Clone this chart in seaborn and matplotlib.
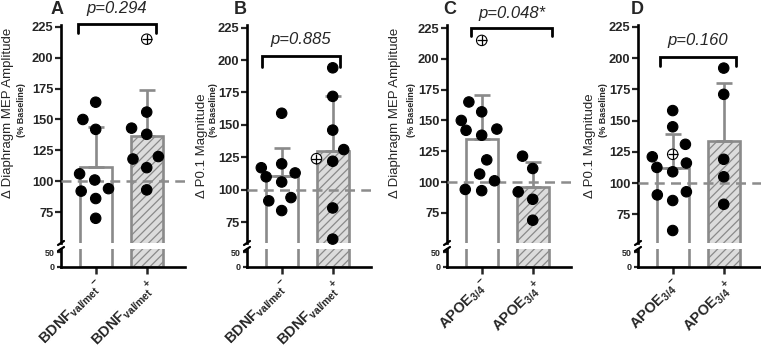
import numpy as np
import pandas as pd
import matplotlib
matplotlib.use('Agg')
import matplotlib.pyplot as plt
from matplotlib.lines import Line2D
from matplotlib.collections import PathCollection
import seaborn as sns

# values (% baseline); outliers are kept in the groups
a_neg = [164, 150, 142, 101, 92, 106, 94, 86, 70]
a_pos = [156, 143, 138, 118, 120, 111, 93, 215]
a_outliers = [215]
b_neg = [159, 120, 117, 110, 113, 106, 94, 91.5, 84]
b_pos = [194, 172, 146, 131, 122, 86, 62, 124]
b_outliers = [124]
c_neg = [165, 150, 157, 142, 143, 138, 118, 101, 106.5, 93, 94, 215]
c_pos = [121, 111, 92, 86, 69]
c_outliers = [215]
d_neg = [158, 145, 131, 121, 112.5, 116, 109, 93, 90.5, 86, 62, 123]
d_pos = [192, 171, 119, 105, 83]
d_outliers = [123]

bdnf_groups = ['BDNF-', 'BDNF+']
apoe_groups = ['APOE-', 'APOE+']
bdnf_ticklabels = [r'$\mathbf{BDNF}_{\mathbf{val/met}}{}^{\mathbf{-}}$',
                   r'$\mathbf{BDNF}_{\mathbf{val/met}}{}^{\mathbf{+}}$']
apoe_ticklabels = [r'$\mathbf{APOE}_{\mathbf{3/4}}{}^{\mathbf{-}}$',
                   r'$\mathbf{APOE}_{\mathbf{3/4}}{}^{\mathbf{+}}$']
letters = ['A', 'B', 'C', 'D']
p_texts = ['p=0.294', 'p=0.885', 'p=0.048*', 'p=0.160']
y_titles = ['Δ Diaphragm MEP Amplitude', 'Δ P0.1 Magnitude',
            'Δ Diaphragm MEP Amplitude', 'Δ P0.1 Magnitude']
top_ticks = [75, 100, 125, 150, 175, 200, 225]
bot_ticks = [0, 50]

# layout (pixels of the 761x351 picture)
layout = [
    dict(spine=61, ylim=(50, 226.5), bracket=(-0.35, 1.18, 227, 220), py=240, ldx=-53, sdx=-40, lx=57),
    dict(spine=247, ylim=(59, 227), bracket=(-0.39, 1.14, 203, 195), py=216, ldx=-45, sdx=-33.5, lx=240),
    dict(spine=447, ylim=(50.5, 227.5), bracket=(-0.2, 1.37, 225, 218.5), py=237, ldx=-52, sdx=-36, lx=450),
    dict(spine=638, ylim=(52, 226.5), bracket=(-0.25, 1.25, 200.6, 194), py=214, ldx=-48, sdx=-34, lx=637),
]


def make_df(neg, pos, outliers, names):
    rows = []
    for name, vals in zip(names, [neg, pos]):
        for v in vals:
            rows.append((name, v, 'outlier' if v in outliers else 'normal'))
    return pd.DataFrame(rows, columns=['group', 'value', 'kind'])


panel_data = [
    (make_df(a_neg, a_pos, a_outliers, bdnf_groups), bdnf_groups, bdnf_ticklabels, a_outliers),
    (make_df(b_neg, b_pos, b_outliers, bdnf_groups), bdnf_groups, bdnf_ticklabels, b_outliers),
    (make_df(c_neg, c_pos, c_outliers, apoe_groups), apoe_groups, apoe_ticklabels, c_outliers),
    (make_df(d_neg, d_pos, d_outliers, apoe_groups), apoe_groups, apoe_ticklabels, d_outliers),
]

sns.set_style('ticks')
plt.rcParams['font.family'] = ['Liberation Sans', 'DejaVu Sans']
plt.rcParams['mathtext.fontset'] = 'custom'
plt.rcParams['mathtext.rm'] = 'Liberation Sans'
plt.rcParams['mathtext.bf'] = 'Liberation Sans:bold'
plt.rcParams['mathtext.it'] = 'Liberation Sans:italic'
plt.rcParams['hatch.linewidth'] = 0.9

W, H = 761, 351
GRAY = '#8a8a8a'
fig = plt.figure(figsize=(W / 100, H / 100), dpi=100)

top_axes = []
for i, (df, names, ticklabels, outliers) in enumerate(panel_data):
    lay = layout[i]
    x0 = lay['spine'] / W
    ax_top = fig.add_axes([x0, 1 - 243 / H, 124 / W, 218 / H])
    ax_bot = fig.add_axes([x0, 1 - 267 / H, 124 / W, 18 / H])
    pal = {names[0]: 'white', names[1]: '#dcdcdc'}
    for ax in (ax_top, ax_bot):
        sns.barplot(data=df, x='group', y='value', hue='group', order=names,
                    hue_order=names, palette=pal, errorbar=None, width=0.63,
                    edgecolor=GRAY, linewidth=1.9, legend=False, ax=ax)
        ax.patches[1].set_hatch('////')
        for sp in ax.spines.values():
            sp.set_linewidth(1.9)
            sp.set_color('black')
        ax.set_xlabel('')
        ax.set_ylabel('')

    # mean + SD (upper only)
    stats = df.groupby('group')['value'].agg(['mean', 'std']).reindex(names)
    ax_top.errorbar([0, 1], stats['mean'], yerr=[np.zeros(2), stats['std']],
                    fmt='none', ecolor=GRAY, elinewidth=1.9, capsize=6,
                    capthick=1.9, zorder=2.5)
    ax_top.axhline(100, color='#8c8c8c', ls=(0, (4, 2.5)), lw=1.8, zorder=3)

    # swarm laid out with a wider spacing, markers shrunk afterwards
    sns.swarmplot(data=df, x='group', y='value', hue='kind', order=names,
                  hue_order=['normal', 'outlier'],
                  palette={'normal': 'black', 'outlier': 'white'},
                  size=10.5, edgecolor='black', linewidth=0.8, legend=False,
                  ax=ax_top, zorder=4)
    ax_top.set_xlabel('')
    ax_top.set_ylabel('')

    ax_top.set_xlim(-0.68, 1.75)
    ax_bot.set_xlim(-0.68, 1.75)
    ax_top.set_ylim(*lay['ylim'])
    ax_bot.set_ylim(0, 60)

    sns.despine(ax=ax_top, bottom=True)
    sns.despine(ax=ax_bot)
    ax_top.tick_params(axis='x', bottom=False, labelbottom=False)
    ax_top.set_yticks(top_ticks)
    ax_top.set_yticklabels([str(t) for t in top_ticks], fontsize=9.3, fontweight='bold')
    ax_top.tick_params(axis='y', length=4, width=1.6, pad=1.5)
    ax_bot.set_yticks(bot_ticks)
    ax_bot.set_yticklabels([str(t) for t in bot_ticks], fontsize=6.5, fontweight='bold')
    ax_bot.tick_params(axis='y', length=3, width=1.6, pad=1.5)
    ax_bot.set_xticks([0, 1])
    ax_bot.set_xticklabels(ticklabels, rotation=45, ha='right', va='top',
                           rotation_mode='anchor', fontsize=10.5)
    ax_bot.tick_params(axis='x', length=5, width=1.8, pad=2)

    # significance bracket and p value
    bx0, bx1, btop, bleg = lay['bracket']
    ax_top.plot([bx0, bx0, bx1, bx1], [bleg, btop, btop, bleg], color='black',
                lw=2, clip_on=False, solid_joinstyle='miter')
    ax_top.text((bx0 + bx1) / 2, lay['py'], p_texts[i], ha='center', va='center',
                style='italic', fontsize=12, clip_on=False)

    # axis break marks
    sx = lay['spine']
    for yb in (243, 249):
        fig.add_artist(Line2D([(sx - 3) / W, (sx + 3) / W],
                              [1 - (yb + 2) / H, 1 - (yb - 2) / H],
                              color='black', lw=1.6, transform=fig.transFigure))

    fig.text((sx + lay['ldx']) / W, 1 - 198 / H, y_titles[i], rotation=90,
             rotation_mode='anchor', ha='left', va='center', fontsize=9.5)
    fig.text((sx + lay['sdx']) / W, 1 - 110 / H, '(% Baseline)', rotation=90,
             ha='center', va='center', fontsize=6.5, fontweight='bold')
    fig.text(lay['lx'] / W, 1 - 9 / H, letters[i], ha='center', va='center',
             fontsize=13, fontweight='bold')
    top_axes.append((ax_top, outliers))

# freeze the swarm positions, shrink the markers, mark the outliers
fig.canvas.draw()
for ax_top, outliers in top_axes:
    for coll in ax_top.collections:
        if not isinstance(coll, PathCollection):
            continue
        if 'draw' in coll.__dict__:
            del coll.__dict__['draw']
        coll.set_sizes([7.5 ** 2])
        coll.set_clip_on(False)
        for x, y in coll.get_offsets():
            if y in outliers:
                ax_top.plot(x, y, marker='+', color='black', ms=7.5, mew=0.9,
                            zorder=5, clip_on=False)

fig.savefig('out.png', dpi=100)
